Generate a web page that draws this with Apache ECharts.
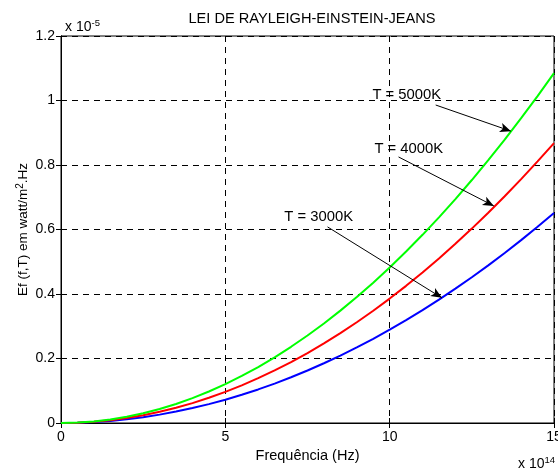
<!DOCTYPE html>
<html>
<head>
<meta charset="utf-8">
<script src="https://cdn.jsdelivr.net/npm/echarts@6/dist/echarts.min.js"></script>
<style>html,body{margin:0;padding:0;background:#fff;}#c{width:558px;height:470px;}</style>
</head>
<body>
<div id="c"></div>
<script>
// Frequency (x 10^14 Hz)
var freq = [0,0.5,1,1.5,2,2.5,3,3.5,4,4.5,5,5.5,6,6.5,7,7.5,8,8.5,9,9.5,10,10.5,11,11.5,12,12.5,13,13.5,14,14.5,15];
// Ef values (x 10^-5)
var t5000 = [0,0.0012,0.0048,0.0108,0.0193,0.0301,0.0434,0.0591,0.0772,0.0976,0.1206,0.1459,0.1736,0.2037,0.2363,0.2712,0.3086,0.3484,0.3906,0.4352,0.4822,0.5316,0.5835,0.6377,0.6944,0.7534,0.8149,0.8788,0.9451,1.0138,1.085];
var t4000 = [0,0.0010,0.0039,0.0087,0.0154,0.0241,0.0347,0.0473,0.0617,0.0781,0.0965,0.1167,0.1389,0.1630,0.1890,0.2170,0.2469,0.2787,0.3125,0.3482,0.3858,0.4253,0.4668,0.5102,0.5556,0.6028,0.6520,0.7031,0.7562,0.8111,0.868];
var t3000 = [0,0.0007,0.0029,0.0065,0.0116,0.0181,0.0260,0.0354,0.0463,0.0586,0.0723,0.0875,0.1041,0.1222,0.1418,0.1627,0.1852,0.2090,0.2343,0.2611,0.2893,0.3189,0.3500,0.3826,0.4166,0.4520,0.4889,0.5273,0.5670,0.6083,0.651];
var xTicks = [0,5,10,15];
var yTicks = [0,0.2,0.4,0.6,0.8,1,1.2];
// annotations: label text, label position, arrow start, arrow end (data units)
var annLabels = ['T = 5000K','T = 4000K','T = 3000K'];
var annText = [[10.52,1.017],[10.58,0.850],[7.84,0.639]];
var annFrom = [[11.40,0.986],[10.27,0.825],[8.11,0.608]];
var annTo = [[13.69,0.905],[13.17,0.673],[11.59,0.388]];

function pairs(xs, ys){ return xs.map(function(x,i){return [x, ys[i]];}); }

var FONT = 'Liberation Sans, Arial, sans-serif';
var chart = echarts.init(document.getElementById('c'), null, {renderer:'canvas'});
var gridLine = {show:true, lineStyle:{color:'#000', width:1, type:[6,5]}};
var supRich = {sup:{fontSize:9.5, verticalAlign:'top', padding:[0,0,8,0], fontFamily:FONT, color:'#000'}};

var markLineData = annFrom.map(function(f,i){ return [{coord:f},{coord:annTo[i]}]; });
var markPointData = annText.map(function(p,i){ return {coord:p, value:annLabels[i]}; });

chart.setOption({
  animation:false,
  backgroundColor:'#fff',
  textStyle:{fontFamily:FONT},
  title:[
    {text:'LEI DE RAYLEIGH-EINSTEIN-JEANS', left:307, top:6, textAlign:'center',
     textStyle:{fontSize:14.6, fontWeight:'normal', color:'#000', fontFamily:FONT}},
    {text:'x 10{sup|-5}', left:60, top:13,
     textStyle:{fontSize:14, fontWeight:'normal', color:'#000', fontFamily:FONT, rich:supRich}},
    {text:'x 10{sup|14}', left:513, top:450,
     textStyle:{fontSize:14, fontWeight:'normal', color:'#000', fontFamily:FONT, rich:supRich}}
  ],
  grid:{left:61, right:4, top:36, bottom:47, show:true, borderColor:'#000', borderWidth:1,
        backgroundColor:'#fff', containLabel:false, outerBoundsMode:'none'},
  xAxis:[
    {type:'value', min:0, max:15, interval:5, position:'bottom',
     name:'Frequência (Hz)', nameLocation:'middle', nameGap:23,
     nameTextStyle:{fontSize:14.5, color:'#000', fontFamily:FONT},
     axisLine:{lineStyle:{color:'#000'}}, axisTick:{inside:true, length:5, lineStyle:{color:'#000'}},
     axisLabel:{fontSize:14, color:'#000', margin:7, fontFamily:FONT,
       formatter:function(v){return xTicks.indexOf(v)>=0? String(v):'';}},
     splitLine:gridLine},
    {type:'value', min:0, max:15, interval:5, position:'top',
     axisLine:{lineStyle:{color:'#000'}}, axisTick:{inside:true, length:5, lineStyle:{color:'#000'}},
     axisLabel:{show:false}, splitLine:{show:false}}
  ],
  yAxis:[
    {type:'value', min:0, max:1.2, interval:0.2, position:'left',
     name:'Ef (f,T) em watt/m{sup|2}.Hz', nameLocation:'middle', nameGap:29, nameRotate:90,
     nameMoveOverlap:false,
     nameTextStyle:{fontSize:13.5, color:'#000', fontFamily:FONT,
       rich:{sup:{fontSize:10, verticalAlign:'top', padding:[0,0,7,0], fontFamily:FONT, color:'#000'}}},
     axisLine:{lineStyle:{color:'#000'}}, axisTick:{inside:true, length:5, lineStyle:{color:'#000'}},
     axisLabel:{fontSize:14, color:'#000', margin:6, fontFamily:FONT,
       formatter:function(v){ var r=Math.round(v*10)/10; return yTicks.indexOf(r)>=0? String(r):''; }},
     splitLine:gridLine},
    {type:'value', min:0, max:1.2, interval:0.2, position:'right',
     axisLine:{lineStyle:{color:'#000'}}, axisTick:{inside:true, length:5, lineStyle:{color:'#000'}},
     axisLabel:{show:false}, splitLine:{show:false}}
  ],
  series:[
    {type:'line', name:'T = 3000K', data:pairs(freq,t3000), showSymbol:false, symbol:'none',
     lineStyle:{color:'#0000ff', width:2}, itemStyle:{color:'#0000ff'}},
    {type:'line', name:'T = 4000K', data:pairs(freq,t4000), showSymbol:false, symbol:'none',
     lineStyle:{color:'#ff0000', width:2}, itemStyle:{color:'#ff0000'}},
    {type:'line', name:'T = 5000K', data:pairs(freq,t5000), showSymbol:false, symbol:'none',
     lineStyle:{color:'#00ff00', width:2}, itemStyle:{color:'#00ff00'}},
    {type:'line', name:'ann', data:[], silent:true,
     markLine:{silent:true, symbol:['none','arrow'], symbolSize:[7,11],
       lineStyle:{color:'#000', width:1, type:'solid'}, itemStyle:{color:'#000'},
       label:{show:false}, emphasis:{disabled:true}, data:markLineData},
     markPoint:{silent:true, symbol:'circle', symbolSize:1, itemStyle:{color:'rgba(0,0,0,0)'},
       label:{show:true, position:'inside', color:'#000', fontSize:14.8, fontFamily:FONT,
         formatter:function(p){return p.value;}},
       data:markPointData}}
  ]
});
</script>
</body>
</html>
